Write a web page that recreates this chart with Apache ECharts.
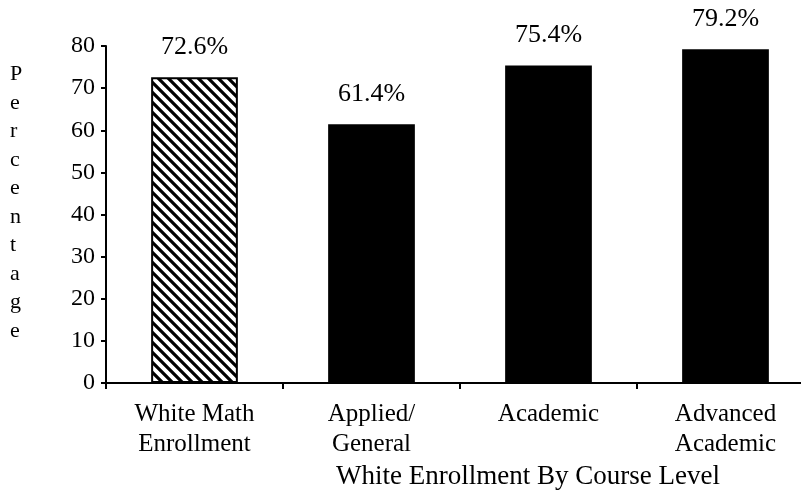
<!DOCTYPE html>
<html>
<head>
<meta charset="utf-8">
<script src="https://cdn.jsdelivr.net/npm/echarts@6/dist/echarts.min.js"></script>
<style>
  html, body { margin: 0; padding: 0; background: #fff; }
  #chart { width: 801px; height: 493px; }
</style>
</head>
<body>
<div id="chart"></div>
<script>
// data
var categories = ['White Math\nEnrollment', 'Applied/\nGeneral', 'Academic', 'Advanced\nAcademic'];
var values = [72.6, 61.4, 75.4, 79.2];
var yTicks = [0, 10, 20, 30, 40, 50, 60, 70, 80];
var yTitle = 'Percentage';
var xTitle = 'White Enrollment By Course Level';

var font = '"Liberation Serif", "DejaVu Serif", serif';

// diagonal hatch for the first bar
function hatch() {
  var c = document.createElement('canvas');
  c.width = 10; c.height = 10;
  var ctx = c.getContext('2d');
  ctx.fillStyle = '#fff';
  ctx.fillRect(0, 0, 10, 10);
  ctx.strokeStyle = '#000';
  ctx.lineWidth = 3.2;
  ctx.beginPath();
  ctx.moveTo(-5, -5); ctx.lineTo(15, 15);
  ctx.moveTo(-5, 5); ctx.lineTo(5, 15);
  ctx.moveTo(5, -5); ctx.lineTo(15, 5);
  ctx.stroke();
  return c;
}

var chart = echarts.init(document.getElementById('chart'));

var barData = values.map(function (v, i) {
  if (i === 0) {
    return {
      value: v,
      itemStyle: {
        color: { image: hatch(), repeat: 'repeat' },
        borderColor: '#000',
        borderWidth: 2
      }
    };
  }
  return { value: v };
});

chart.setOption({
  backgroundColor: '#fff',
  animation: false,
  grid: { left: 106, top: 46, width: 708, height: 337, outerBoundsMode: 'none', containLabel: false },
  graphic: [{
    type: 'text',
    left: 10,
    top: 60,
    style: {
      text: yTitle.split('').join('\n'),
      font: '22px ' + font,
      lineHeight: 28.5,
      fill: '#000'
    }
  }],
  xAxis: {
    type: 'category',
    data: categories,
    name: xTitle,
    nameLocation: 'middle',
    nameGap: 80,
    nameTextStyle: {
      fontFamily: font, fontSize: 27, color: '#000',
      padding: [0, 0, 0, 136]
    },
    axisLine: { lineStyle: { color: '#000', width: 2 } },
    axisTick: { show: true, length: 6, lineStyle: { color: '#000', width: 2 } },
    axisLabel: {
      fontFamily: font, fontSize: 25, color: '#000',
      lineHeight: 30, margin: 16
    }
  },
  yAxis: {
    type: 'value',
    min: yTicks[0],
    max: yTicks[yTicks.length - 1],
    interval: 10,
    splitLine: { show: false },
    axisLine: { show: true, lineStyle: { color: '#000', width: 2 } },
    axisTick: { show: true, length: 5, lineStyle: { color: '#000', width: 2 } },
    axisLabel: { fontFamily: font, fontSize: 24, color: '#000', margin: 11 }
  },
  series: [{
    type: 'bar',
    data: barData,
    barWidth: '49%',
    itemStyle: { color: '#000' },
    label: {
      show: true,
      position: 'top',
      distance: 17,
      fontFamily: font,
      fontSize: 26,
      color: '#000',
      formatter: function (p) { return p.value.toFixed(1) + '%'; }
    }
  }]
});
</script>
</body>
</html>
